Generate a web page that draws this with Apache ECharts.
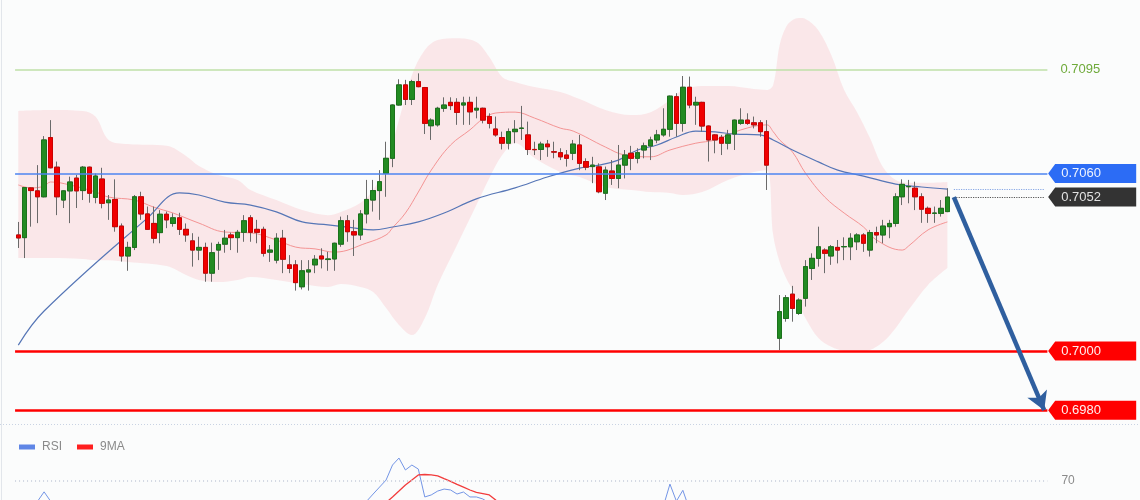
<!DOCTYPE html>
<html>
<head>
<meta charset="utf-8">
<script src="https://cdn.jsdelivr.net/npm/echarts@6/dist/echarts.min.js"></script>
<style>
html,body{margin:0;padding:0;background:#fbfcfc;}
#chart{width:1140px;height:500px;}
</style>
</head>
<body>
<div id="chart"></div>
<script>
// ---------- DATA ----------
// candles: [open, close, low, high]; '-' = empty slot (gap)
const candles = [
[0.70392,0.70382,0.70348,0.70436],
[0.70383,0.70552,0.70314,0.70554],
[0.70551,0.70542,0.70420,0.70553],
[0.70541,0.70521,0.70432,0.70628],
[0.70521,0.70713,0.70519,0.70726],
[0.70721,0.70619,0.70617,0.70780],
[0.70621,0.70521,0.70459,0.70640],
[0.70510,0.70541,0.70483,0.70543],
[0.70541,0.70571,0.70432,0.70589],
[0.70584,0.70541,0.70483,0.70595],
[0.70542,0.70621,0.70510,0.70625],
[0.70621,0.70533,0.70501,0.70623],
[0.70519,0.70591,0.70499,0.70600],
[0.70581,0.70499,0.70482,0.70619],
[0.70501,0.70510,0.70443,0.70527],
[0.70512,0.70420,0.70403,0.70580],
[0.70422,0.70321,0.70302,0.70431],
[0.70321,0.70350,0.70271,0.70369],
[0.70350,0.70521,0.70341,0.70527],
[0.70521,0.70463,0.70443,0.70538],
[0.70463,0.70411,0.70409,0.70488],
[0.70431,0.70381,0.70364,0.70488],
[0.70400,0.70462,0.70364,0.70476],
[0.70462,0.70443,0.70415,0.70471],
[0.70431,0.70450,0.70420,0.70465],
[0.70450,0.70411,0.70392,0.70467],
[0.70411,0.70392,0.70369,0.70431],
[0.70372,0.70341,0.70285,0.70398],
[0.70341,0.70350,0.70307,0.70386],
[0.70350,0.70263,0.70234,0.70366],
[0.70263,0.70332,0.70234,0.70366],
[0.70341,0.70360,0.70274,0.70369],
[0.70361,0.70381,0.70332,0.70409],
[0.70392,0.70383,0.70341,0.70400],
[0.70383,0.70401,0.70332,0.70409],
[0.70401,0.70440,0.70369,0.70459],
[0.70450,0.70401,0.70369,0.70459],
[0.70411,0.70401,0.70364,0.70443],
[0.70411,0.70330,0.70319,0.70420],
[0.70334,0.70341,0.70301,0.70358],
[0.70307,0.70381,0.70296,0.70398],
[0.70381,0.70310,0.70263,0.70409],
[0.70291,0.70279,0.70263,0.70324],
[0.70291,0.70231,0.70204,0.70307],
[0.70217,0.70271,0.70208,0.70307],
[0.70267,0.70274,0.70204,0.70307],
[0.70291,0.70310,0.70263,0.70324],
[0.70321,0.70311,0.70279,0.70347],
[0.70309,0.70311,0.70271,0.70335],
[0.70311,0.70364,0.70271,0.70366],
[0.70361,0.70440,0.70352,0.70454],
[0.70440,0.70403,0.70369,0.70459],
[0.70403,0.70392,0.70321,0.70443],
[0.70392,0.70463,0.70375,0.70476],
[0.70463,0.70512,0.70431,0.70578],
[0.70510,0.70542,0.70471,0.70578],
[0.70542,0.70572,0.70443,0.70611],
[0.70600,0.70651,0.70521,0.70707],
[0.70651,0.70831,0.70621,0.70833],
[0.70831,0.70899,0.70829,0.70918],
[0.70899,0.70850,0.70831,0.70916],
[0.70850,0.70910,0.70831,0.70916],
[0.70910,0.70893,0.70891,0.70938],
[0.70890,0.70769,0.70733,0.70892],
[0.70761,0.70780,0.70713,0.70786],
[0.70764,0.70820,0.70758,0.70825],
[0.70820,0.70831,0.70808,0.70857],
[0.70840,0.70829,0.70814,0.70857],
[0.70840,0.70806,0.70764,0.70854],
[0.70831,0.70838,0.70764,0.70859],
[0.70840,0.70808,0.70764,0.70859],
[0.70814,0.70820,0.70786,0.70859],
[0.70820,0.70780,0.70769,0.70822],
[0.70792,0.70769,0.70752,0.70803],
[0.70750,0.70730,0.70724,0.70792],
[0.70721,0.70702,0.70681,0.70741],
[0.70702,0.70741,0.70681,0.70752],
[0.70741,0.70749,0.70702,0.70780],
[0.70752,0.70753,0.70713,0.70828],
[0.70730,0.70681,0.70662,0.70775],
[0.70681,0.70680,0.70662,0.70707],
[0.70681,0.70699,0.70645,0.70707],
[0.70699,0.70690,0.70656,0.70713],
[0.70673,0.70672,0.70651,0.70707],
[0.70670,0.70656,0.70645,0.70685],
[0.70662,0.70651,0.70623,0.70679],
[0.70668,0.70699,0.70645,0.70713],
[0.70696,0.70634,0.70611,0.70730],
[0.70640,0.70621,0.70611,0.70651],
[0.70623,0.70628,0.70567,0.70656],
[0.70622,0.70538,0.70533,0.70634],
[0.70533,0.70611,0.70510,0.70623],
[0.70608,0.70583,0.70561,0.70645],
[0.70583,0.70628,0.70550,0.70696],
[0.70628,0.70662,0.70583,0.70679],
[0.70668,0.70651,0.70611,0.70693],
[0.70651,0.70670,0.70634,0.70685],
[0.70679,0.70693,0.70651,0.70704],
[0.70693,0.70713,0.70645,0.70724],
[0.70713,0.70730,0.70702,0.70747],
[0.70730,0.70749,0.70724,0.70820],
[0.70749,0.70861,0.70724,0.70863],
[0.70859,0.70769,0.70724,0.70871],
[0.70769,0.70891,0.70741,0.70929],
[0.70891,0.70831,0.70820,0.70927],
[0.70831,0.70840,0.70764,0.70859],
[0.70840,0.70760,0.70741,0.70842],
[0.70760,0.70713,0.70640,0.70762],
[0.70730,0.70713,0.70668,0.70733],
[0.70722,0.70702,0.70662,0.70730],
[0.70702,0.70730,0.70681,0.70747],
[0.70733,0.70780,0.70679,0.70782],
[0.70769,0.70780,0.70764,0.70820],
[0.70780,0.70769,0.70764,0.70803],
[0.70771,0.70764,0.70752,0.70792],
[0.70771,0.70741,0.70724,0.70780],
[0.70741,0.70628,0.70544,0.70780],
'-',
[0.70043,0.70133,0.70003,0.70189],
[0.70110,0.70180,0.70099,0.70189],
[0.70192,0.70144,0.70099,0.70220],
[0.70127,0.70172,0.70122,0.70178],
[0.70178,0.70285,0.70150,0.70307],
[0.70279,0.70313,0.70240,0.70330],
[0.70313,0.70352,0.70285,0.70420],
[0.70341,0.70330,0.70263,0.70347],
[0.70321,0.70352,0.70291,0.70358],
[0.70350,0.70341,0.70296,0.70375],
[0.70352,0.70353,0.70307,0.70384],
[0.70352,0.70381,0.70307,0.70398],
[0.70369,0.70392,0.70341,0.70398],
[0.70392,0.70364,0.70335,0.70398],
[0.70341,0.70400,0.70319,0.70409],
[0.70400,0.70392,0.70364,0.70420],
[0.70392,0.70422,0.70364,0.70443],
[0.70420,0.70431,0.70381,0.70443],
[0.70431,0.70521,0.70420,0.70533],
[0.70521,0.70563,0.70493,0.70580],
[0.70555,0.70556,0.70499,0.70578],
[0.70550,0.70521,0.70476,0.70572],
[0.70521,0.70479,0.70433,0.70533],
[0.70482,0.70465,0.70433,0.70488],
[0.70465,0.70466,0.70433,0.70488],
[0.70465,0.70482,0.70454,0.70510],
[0.70471,0.70520,0.70469,0.70550]
];

// Bollinger bands (sampled at candle indices)
const bandIdx = [0,5,10,12,14,17,23,26,28,31,34,36,40,44,48,50,53,55,57,59,61,63,65,68,71,73,75,77,80,84,87,91,95,98,101,103,106,110,114,116,117,118,119,120,121,122,124,126,128,130,132,134,136,138,141,144];
const bandUpper = [0.70811,0.70814,0.70811,0.70791,0.70713,0.70699,0.70693,0.70659,0.70625,0.70595,0.70578,0.70544,0.70510,0.70476,0.70459,0.70470,0.70500,0.70544,0.70628,0.70780,0.70932,0.71017,0.71051,0.71057,0.71044,0.70993,0.70926,0.70909,0.70892,0.70875,0.70851,0.70814,0.70797,0.70807,0.70848,0.70882,0.70895,0.70895,0.70885,0.70882,0.70899,0.71034,0.71095,0.71118,0.71125,0.71122,0.71084,0.71000,0.70882,0.70807,0.70720,0.70622,0.70578,0.70568,0.70568,0.70571];
const bandLower = [0.70314,0.70314,0.70311,0.70307,0.70307,0.70301,0.70287,0.70257,0.70240,0.70233,0.70240,0.70250,0.70240,0.70226,0.70216,0.70226,0.70216,0.70199,0.70145,0.70088,0.70054,0.70111,0.70223,0.70358,0.70493,0.70584,0.70662,0.70703,0.70652,0.70605,0.70588,0.70554,0.70544,0.70537,0.70534,0.70527,0.70537,0.70578,0.70605,0.70611,0.70392,0.70301,0.70247,0.70206,0.70155,0.70111,0.70044,0.70014,0.70000,0.69997,0.70003,0.70030,0.70078,0.70139,0.70223,0.70280];

// Bollinger middle line
const midIdx = [0,2,4,5,8,12,14,18,21,24,28,32,36,40,43,46,49,54,57,58,60,62,64,67,70,72,74,77,80,84,86,91,94,98,101,105,108,112,116,117,118,120,122,125,128,131,133,137,138,141,144];
const midVals = [0.70561,0.70551,0.70557,0.70571,0.70561,0.70537,0.70520,0.70510,0.70486,0.70466,0.70432,0.70402,0.70399,0.70375,0.70351,0.70345,0.70334,0.70365,0.70392,0.70416,0.70466,0.70537,0.70611,0.70696,0.70747,0.70784,0.70804,0.70807,0.70787,0.70753,0.70743,0.70689,0.70662,0.70656,0.70679,0.70702,0.70713,0.70747,0.70764,0.70741,0.70713,0.70672,0.70601,0.70520,0.70466,0.70419,0.70375,0.70341,0.70355,0.70409,0.70436];

// Slow moving average (blue)
const maIdx = [0,4,20,25,28,32,36,40,44,48,52,55,58,62,66,71,77,82,87,90,93,96,99,102,105,108,111,115,117,120,124,127,131,136,140,144];
const maVals = [0.70020,0.70135,0.70449,0.70534,0.70527,0.70503,0.70493,0.70470,0.70436,0.70426,0.70416,0.70409,0.70419,0.70436,0.70466,0.70514,0.70551,0.70588,0.70618,0.70628,0.70645,0.70679,0.70696,0.70723,0.70743,0.70740,0.70733,0.70730,0.70713,0.70679,0.70639,0.70611,0.70591,0.70564,0.70554,0.70547];

// Price levels
const levelValues = [0.7095, 0.7060, 0.7000, 0.6980];
const levelNames  = ['0.7095', '0.7060', '0.7000', '0.6980'];
const lastClose = 0.7052;
const lastCloseName = '0.7052';
const arrowFrom = [145, 0.7052];
const arrowTo = [158.6, 0.6980];

// RSI panel (only the visible part above the window's bottom edge)
const rsiIdx = [2,3,4,5,6,7,53,54,55,56,57,58,59,60,61,62,63,64,65,66,67,68,69,70,71,72,73,74,100,101,102,103,104];
const rsiVals = [52,57,63,57,52,'-',53,57,61.6,66.1,70.6,80.3,84.8,77.1,80.3,77.7,59.7,61,63.5,64.8,64.2,61.6,62.9,59.7,59.7,58.4,55.8,'-',54,68,57,64,52];
const ma9Idx = [56,57,58,59,60,61,62,63,64,65,66,67,68,69,70,71,72,73,74,75];
const ma9Vals = [52,56,59.7,63.5,67.4,70.6,73.9,74.2,74,73.3,71.5,69.8,67.8,66,64.2,62.6,61.8,61,57.7,53];
const rsiLevel = 70;

const slotCount = 160;
const slots = Array.from({length: slotCount}, (_, i) => String(i));

// ---------- BUILD ----------
const pairs = (idx, vals) => idx.map((x, k) => [x, vals[k]]);
const bodies = candles.map(c => c === '-' ? '-' : [c[0], c[1], Math.min(c[0], c[1]), Math.max(c[0], c[1])]);
const maLast = maVals[maVals.length - 1];
const lastSlot = slotCount - 1;
const FONT = 'Liberation Sans, Arial, Helvetica, sans-serif';

const boxPath = 'path://M0,10 L7,0 L88,0 L88,20 L7,20 Z';
function box(val, name, fill, textColor) {
  return {
    name: name, coord: [lastSlot, val],
    itemStyle: { color: fill },
    label: { color: textColor }
  };
}

const chart = echarts.init(document.getElementById('chart'), null, {renderer: 'canvas'});
const option = {
  animation: false,
  backgroundColor: '#fbfcfc',
  textStyle: { fontFamily: FONT },
  grid: [
    { left: 15.07, top: 0, width: 1032.32, height: 425, outerBoundsMode: 'none', containLabel: false },
    { left: 15.07, top: 434.5, width: 1032.32, height: 155, outerBoundsMode: 'none', containLabel: false }
  ],
  xAxis: [
    { type: 'category', gridIndex: 0, data: slots, boundaryGap: true, show: false },
    { type: 'category', gridIndex: 1, data: slots, boundaryGap: true, show: false }
  ],
  yAxis: [
    { type: 'value', gridIndex: 0, min: 0.6975, max: 0.711858, show: false, splitLine: {show: false} },
    { type: 'value', gridIndex: 1, min: 0, max: 100, show: false, splitLine: {show: false} }
  ],
  legend: {
    left: 14, top: 436, icon: 'rect', itemWidth: 16, itemHeight: 5, itemGap: 15,
    textStyle: { color: '#8a8a8a', fontSize: 12, fontFamily: FONT, padding: [0, 0, 0, 2] },
    data: ['RSI', '9MA']
  },
  graphic: [
    { type: 'line', silent: true, shape: {x1: 0, y1: 424.5, x2: 1140, y2: 424.5},
      style: { stroke: '#c9d3e3', lineWidth: 1, lineDash: [1, 2] } },
    { type: 'line', silent: true, shape: {x1: 1.5, y1: 0, x2: 1.5, y2: 500},
      style: { stroke: '#e2e6eb', lineWidth: 1 } }
  ],
  series: [
    { name: 'bbLow', type: 'line', xAxisIndex: 0, yAxisIndex: 0, stack: 'bb',
      data: pairs(bandIdx, bandLower), symbol: 'none', smooth: 0.35, silent: true,
      lineStyle: { opacity: 0 }, z: 1 },
    { name: 'bbRange', type: 'line', xAxisIndex: 0, yAxisIndex: 0, stack: 'bb',
      data: bandIdx.map((x, k) => [x, bandUpper[k] - bandLower[k]]), symbol: 'none', smooth: 0.35, silent: true,
      lineStyle: { opacity: 0 }, areaStyle: { color: 'rgba(250,150,160,0.28)' }, z: 1 },
    { name: 'bbMid', type: 'line', xAxisIndex: 0, yAxisIndex: 0,
      data: pairs(midIdx, midVals), symbol: 'none', smooth: 0.4, silent: true,
      lineStyle: { color: '#f49494', width: 1 }, z: 2 },
    { name: 'ma', type: 'line', xAxisIndex: 0, yAxisIndex: 0,
      data: pairs(maIdx, maVals), symbol: 'none', smooth: 0.4, silent: true,
      lineStyle: { color: '#5676b6', width: 1.2 }, z: 2 },
    { name: 'levels', type: 'line', xAxisIndex: 0, yAxisIndex: 0, data: [], clip: false, silent: true, z: 2,
      markLine: {
        silent: true, symbol: ['none', 'none'], animation: false, precision: 5,
        label: { show: false },
        data: [
          { yAxis: levelValues[0], lineStyle: { color: '#bfe0a8', width: 1.5, type: 'solid' },
            label: { show: true, position: 'end', distance: 13, formatter: levelNames[0], color: '#6faa3a', fontSize: 13, fontFamily: FONT } },
          { yAxis: levelValues[1], lineStyle: { color: '#4c84f0', width: 1.5, type: 'solid' } },
          { yAxis: levelValues[2], lineStyle: { color: '#ff0000', width: 2.5, type: 'solid' } },
          { yAxis: levelValues[3], lineStyle: { color: '#ff0000', width: 2.5, type: 'solid' } },
          [ { coord: [145, maLast], lineStyle: { color: '#88a8e6', width: 1.2, type: 'dotted' } },
            { coord: [lastSlot, maLast], lineStyle: { color: '#88a8e6', width: 1.2, type: 'dotted' } } ],
          [ { coord: [145, lastClose], lineStyle: { color: '#555555', width: 1.2, type: 'dotted' } },
            { coord: [lastSlot, lastClose], lineStyle: { color: '#555555', width: 1.2, type: 'dotted' } } ],
          [ { coord: arrowFrom, symbol: 'none', lineStyle: { color: '#2f5f9f', width: 4.5, type: 'solid' } },
            { coord: arrowTo, symbol: 'arrow', symbolSize: [16, 18], lineStyle: { color: '#2f5f9f', width: 4.5, type: 'solid' } } ]
        ]
      },
      markPoint: {
        silent: true, animation: false,
        symbol: boxPath, symbolSize: [88, 19], symbolKeepAspect: false, symbolOffset: [48, 0],
        label: { show: true, position: 'insideLeft', distance: 13, formatter: '{b}', fontSize: 13, fontFamily: FONT },
        data: [
          box(levelValues[1], levelNames[1], '#2c6cf5', '#eef3ff'),
          box(lastClose, lastCloseName, '#333333', '#e2e2e2'),
          box(levelValues[2], levelNames[2], '#ff0000', '#ffeeee'),
          box(levelValues[3], levelNames[3], '#ff0000', '#ffeeee')
        ]
      }
    },
    { name: 'wicks', type: 'candlestick', xAxisIndex: 0, yAxisIndex: 0, data: candles, barWidth: 5, silent: true,
      itemStyle: { color: '#6a6a6a', color0: '#6a6a6a', borderColor: '#6a6a6a', borderColor0: '#6a6a6a', borderColorDoji: '#6a6a6a', borderWidth: 1 },
      z: 3 },
    { name: 'bodies', type: 'candlestick', xAxisIndex: 0, yAxisIndex: 0, data: bodies, barWidth: 5, silent: true,
      itemStyle: { color: '#228b22', color0: '#f00000', borderColor: '#1b721b', borderColor0: '#cc0000', borderColorDoji: '#555555', borderWidth: 1 },
      z: 4 },
    { name: 'RSI', type: 'line', xAxisIndex: 1, yAxisIndex: 1, data: pairs(rsiIdx, rsiVals), symbol: 'none', clip: false,
      lineStyle: { color: '#7395e6', width: 1 }, itemStyle: { color: '#5f86e6' }, silent: true,
      markLine: {
        silent: true, symbol: ['none', 'none'], precision: 2,
        data: [ { yAxis: rsiLevel } ],
        lineStyle: { color: '#c3cbd9', width: 1.5, type: [1, 3] },
        label: { show: true, position: 'end', distance: 14, formatter: String(rsiLevel), color: '#8a8a8a', fontSize: 12, fontFamily: FONT }
      } },
    { name: '9MA', type: 'line', xAxisIndex: 1, yAxisIndex: 1, data: pairs(ma9Idx, ma9Vals), symbol: 'none',
      lineStyle: { color: '#f23c3c', width: 1.3 }, itemStyle: { color: '#ff1f1f' }, silent: true }
  ]
};
chart.setOption(option);
</script>
</body>
</html>
